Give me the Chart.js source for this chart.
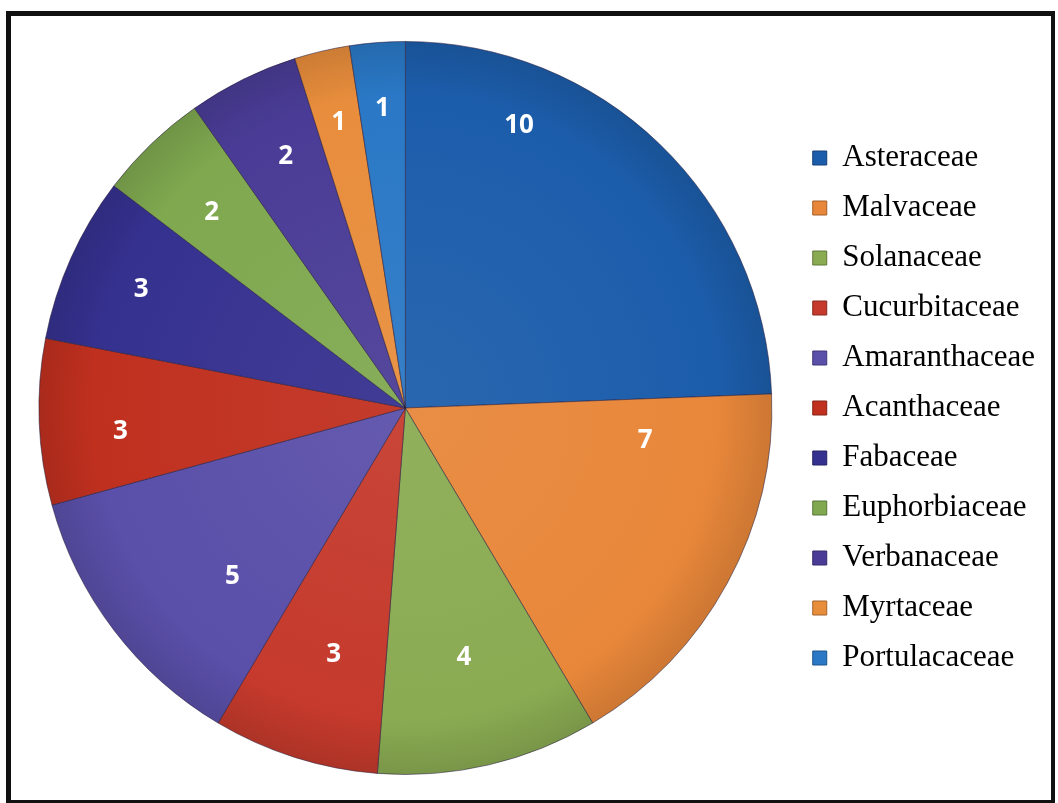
<!DOCTYPE html>
<html>
<head>
<meta charset="utf-8">
<script src="https://cdn.jsdelivr.net/npm/chart.js@4.4.1/dist/chart.umd.min.js"></script>
<style>
    html, body { margin: 0; padding: 0; background: #fff; }
    #wrap { position: relative; width: 1058px; height: 803px; }
    #frame {
        position: absolute; left: 6px; top: 11px; width: 1040px; height: 784px;
        border: 5px solid #111; border-right-width: 4px; border-bottom-width: 4px;
        pointer-events: none;
    }
    #chart { position: absolute; left: 0; top: 0; }
</style>
</head>
<body>
<div id="wrap">
    <canvas id="chart" width="1058" height="803"></canvas>
    <div id="frame"></div>
</div>
<script>
// Plant families and number of species
const families = ['Asteraceae', 'Malvaceae', 'Solanaceae', 'Cucurbitaceae', 'Amaranthaceae',
    'Acanthaceae', 'Fabaceae', 'Euphorbiaceae', 'Verbanaceae', 'Myrtaceae', 'Portulacaceae'];
const counts = [10, 7, 4, 3, 5, 3, 3, 2, 2, 1, 1];
const sliceColors = ['#1c5dab', '#e8873a', '#8aab52', '#c53a2c', '#5a4fa9',
    '#c0301f', '#35318f', '#7fa84f', '#4a3c96', '#e88d3c', '#2a78c6'];

// where each value label sits: [fraction of radius, fraction of slice angle]
const labelPlace = [[0.83, 0.25], [0.66, 0.16], [0.70, 0.5], [0.70, 0.45], [0.66, 0.34],
    [0.78, 0.4], [0.79, 0.5], [0.75, 0.45], [0.76, 0.55], [0.80, 0.5], [0.82, 0.5]];

// lighten (amt > 0) or darken (amt < 0) a hex colour
function shade(hex, amt) {
    const n = parseInt(hex.slice(1), 16);
    const f = c => Math.round(amt > 0 ? c + (255 - c) * amt : c * (1 + amt));
    const r = f(n >> 16), g = f((n >> 8) & 255), b = f(n & 255);
    return `rgb(${r},${g},${b})`;
}

// soft radial shading like the old office pie style
function sliceFill(context) {
    const chart = context.chart;
    const base = sliceColors[context.dataIndex];
    const area = chart.chartArea;
    if (!area) return base;
    const cx = (area.left + area.right) / 2;
    const cy = (area.top + area.bottom) / 2;
    const r = Math.min(area.right - area.left, area.bottom - area.top) / 2;
    const g = chart.ctx.createRadialGradient(cx, cy, 0, cx, cy, r);
    g.addColorStop(0, shade(base, 0.06));
    g.addColorStop(0.85, base);
    g.addColorStop(1, shade(base, -0.12));
    return g;
}

// Draw the value on each slice
const valueLabels = {
    id: 'valueLabels',
    afterDatasetsDraw(chart) {
        const ctx = chart.ctx;
        const meta = chart.getDatasetMeta(0);
        ctx.save();
        ctx.font = 'bold 26px "Open Sans", sans-serif';
        ctx.fillStyle = '#ffffff';
        ctx.textAlign = 'center';
        ctx.textBaseline = 'middle';
        meta.data.forEach((arc, i) => {
            const p = arc.getProps(['x', 'y', 'startAngle', 'endAngle', 'outerRadius'], true);
            const place = labelPlace[i];
            const a = p.startAngle + (p.endAngle - p.startAngle) * place[1];
            const r = p.outerRadius * place[0];
            ctx.fillText(String(counts[i]), p.x + Math.cos(a) * r, p.y + Math.sin(a) * r);
        });
        ctx.restore();
    }
};

new Chart(document.getElementById('chart'), {
    type: 'pie',
    data: {
        labels: families,
        datasets: [{
            data: counts,
            backgroundColor: sliceFill,
            borderColor: 'rgba(40, 30, 60, 0.55)',
            borderWidth: 1
        }]
    },
    options: {
        responsive: false,
        animation: false,
        layout: {
            padding: { left: 17, right: 13, top: 41, bottom: 28 }
        },
        plugins: {
            tooltip: { enabled: false },
            legend: {
                position: 'right',
                labels: {
                    font: { family: '"Liberation Serif", "Times New Roman", serif', size: 31 },
                    color: '#222',
                    boxWidth: 14,
                    boxHeight: 14,
                    padding: 19,
                    generateLabels(chart) {
                        return families.map((name, i) => ({
                            text: name,
                            fillStyle: sliceColors[i],
                            strokeStyle: shade(sliceColors[i], -0.3),
                            lineWidth: 1,
                            hidden: false,
                            index: i
                        }));
                    }
                }
            }
        }
    },
    plugins: [valueLabels]
});
</script>
</body>
</html>
